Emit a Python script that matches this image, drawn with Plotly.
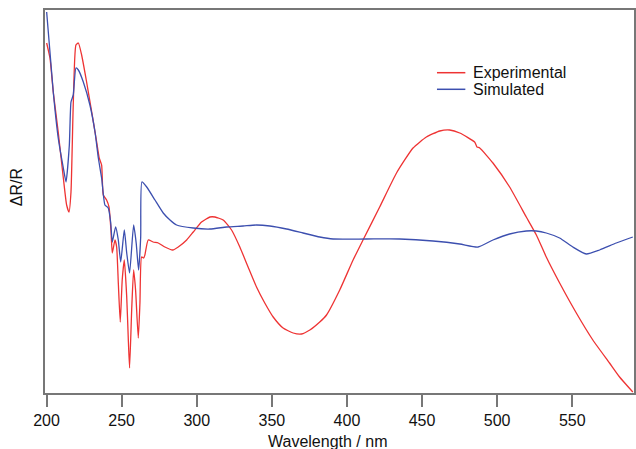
import plotly.graph_objects as go

# Experimental spectrum (wavelength nm, ΔR/R arbitrary units)
exp_wl = [200.1, 202.3, 204.5, 207.8, 211.2, 213.4, 215.0, 216.3, 217.8, 219.6, 221.2, 223.4,
          226.7, 230.1, 233.4, 235.1, 236.7, 237.8, 240.0, 241.6, 242.9, 243.8, 245.6, 246.7,
          247.8, 249.1, 250.4, 251.8, 253.4, 254.4, 255.3, 256.7, 258.0, 259.3, 261.1, 262.2,
          263.3, 264.7, 265.5, 267.7, 271.0, 274.4, 278.8, 284.0, 287.7, 293.3, 297.7, 303.2,
          308.8, 312.1, 317.6, 323.2, 328.7, 334.2, 339.8, 345.3, 350.9, 357.5, 364.2, 369.8,
          375.3, 381.9, 386.4, 395.2, 404.1, 410.7, 421.8, 433.0, 444.0, 452.9, 461.8, 468.4,
          475.1, 485.0, 486.6, 488.4, 497.2, 508.3, 519.4, 526.1, 532.7, 541.6, 552.7, 563.7,
          574.8, 581.5, 590.3]
exp_val = [3.50, 3.35, 3.01, 2.61, 2.15, 1.88, 1.81, 2.01, 2.88, 3.48, 3.50, 3.38,
           3.11, 2.81, 2.51, 2.35, 2.28, 1.98, 1.93, 1.86, 1.63, 1.40, 1.53, 1.46,
           1.10, 0.71, 1.13, 1.33, 0.96, 0.56, 0.25, 0.83, 1.23, 1.03, 0.55, 0.90,
           1.36, 1.35, 1.38, 1.53, 1.51, 1.50, 1.46, 1.43, 1.46, 1.53, 1.61, 1.71,
           1.76, 1.76, 1.73, 1.63, 1.46, 1.26, 1.06, 0.90, 0.76, 0.65, 0.60, 0.59,
           0.63, 0.71, 0.78, 1.03, 1.33, 1.53, 1.86, 2.20, 2.45, 2.56, 2.62, 2.63,
           2.60, 2.51, 2.46, 2.45, 2.30, 2.06, 1.76, 1.58, 1.36, 1.10, 0.80, 0.53,
           0.30, 0.16, 0.01]

# Simulated spectrum
sim_wl = [200.1, 204.5, 207.8, 211.2, 213.0, 215.2, 216.3, 217.8, 219.6, 221.2, 224.5, 228.9,
          232.3, 234.5, 236.7, 238.9, 241.1, 242.7, 243.8, 246.0, 247.8, 249.4, 251.8, 253.4,
          255.3, 258.0, 259.7, 261.3, 262.7, 263.5, 266.7, 272.2, 277.7, 282.2, 286.6, 297.7,
          308.8, 319.9, 330.9, 339.8, 348.7, 359.8, 370.8, 381.9, 390.8, 413.0, 435.2, 457.3,
          475.1, 487.2, 497.2, 508.3, 519.4, 526.1, 532.7, 541.6, 550.4, 559.3, 568.2, 579.3,
          590.3]
sim_val = [3.81, 3.01, 2.55, 2.25, 2.11, 2.48, 2.91, 2.98, 3.25, 3.23, 3.11, 2.88,
           2.61, 2.35, 2.15, 1.88, 1.85, 1.71, 1.51, 1.66, 1.53, 1.31, 1.63, 1.40,
           1.20, 1.68, 1.50, 1.23, 1.56, 2.11, 2.06, 1.93, 1.80, 1.73, 1.68, 1.65,
           1.64, 1.66, 1.67, 1.68, 1.67, 1.64, 1.60, 1.56, 1.54, 1.54, 1.54, 1.52,
           1.49, 1.46, 1.53, 1.59, 1.62, 1.62, 1.60, 1.55, 1.46, 1.39, 1.43, 1.50,
           1.56]

x_ticks = [200, 250, 300, 350, 400, 450, 500, 550]
series_names = ["Experimental", "Simulated"]
series_colors = ["#EE3333", "#3C4FAF"]

fig = go.Figure()
fig.add_trace(go.Scatter(x=exp_wl, y=exp_val, mode="lines", name=series_names[0],
                         line=dict(color=series_colors[0], width=1.3, shape="spline", smoothing=0.5)))
fig.add_trace(go.Scatter(x=sim_wl, y=sim_val, mode="lines", name=series_names[1],
                         line=dict(color=series_colors[1], width=1.3, shape="spline", smoothing=0.5)))

axis_col = "#777777"
PW, PH = 589.5, 383.0  # plot area size in px
fig.update_layout(
    width=636, height=449,
    margin=dict(l=45, r=1.5, t=10, b=56, autoexpand=False),
    plot_bgcolor="white", paper_bgcolor="white",
    font=dict(family="Liberation Sans, Arial, sans-serif", size=16, color="#111111"),
    xaxis=dict(range=[199.0, 591.1], tickvals=x_ticks, ticks="outside", ticklen=12,
               tickcolor=axis_col, tickwidth=1.5, showline=True, linecolor=axis_col,
               linewidth=1.5, mirror=True, showgrid=False, zeroline=False,
               tickfont=dict(size=16)),
    yaxis=dict(range=[0, 3.83], showticklabels=False, ticks="", showline=True,
               linecolor=axis_col, linewidth=1.5, mirror=True, showgrid=False,
               zeroline=False),
    showlegend=False,
)
fig.add_annotation(text="Wavelength / nm", xref="paper", yref="paper",
                   x=(328 - 45) / PW, y=-(441 - 393) / PH, showarrow=False,
                   font=dict(size=16), xanchor="center", yanchor="middle")
fig.add_annotation(text="ΔR/R", xref="paper", yref="paper",
                   x=(16.7 - 45) / PW, y=(393 - 187.5) / PH, showarrow=False,
                   textangle=-90, font=dict(size=16), xanchor="center", yanchor="middle")

# legend drawn manually to match the tight row spacing
leg_rows_y = [72.7, 89.3]
for name, col, ly in zip(series_names, series_colors, leg_rows_y):
    yp = (393 - ly) / PH
    fig.add_shape(type="line", xref="paper", yref="paper",
                  x0=(437.3 - 45) / PW, x1=(465.7 - 45) / PW, y0=yp, y1=yp,
                  line=dict(color=col, width=1.5))
    fig.add_annotation(text=name, xref="paper", yref="paper", x=(471.5 - 45) / PW, y=yp,
                       showarrow=False, xanchor="left", yanchor="middle",
                       font=dict(size=16, color="#111111"))

fig.write_html(
    "out.html",
    config={"displayModeBar": False},
    post_script="document.body.style.margin='0';document.documentElement.style.overflow='hidden';document.body.style.overflow='hidden';",
)
